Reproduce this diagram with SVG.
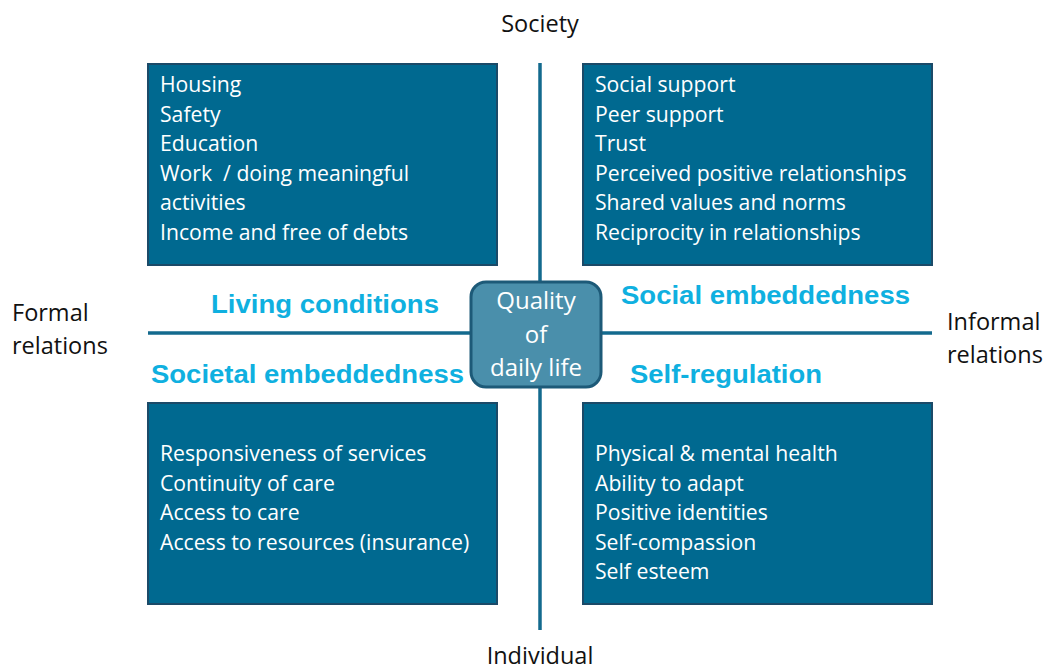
<svg xmlns="http://www.w3.org/2000/svg" width="1046" height="670" viewBox="0 0 1046 670">
<style>
.box{fill:#006990;stroke:#1b4a68;stroke-width:2}
.line{stroke:#136a8e;stroke-width:3.5;fill:none}
.t{font-family:"Open Sans","Noto Sans",sans-serif;font-size:21.2px;fill:#ffffff}
.h{font-family:"Liberation Sans",Arial,sans-serif;font-weight:bold;font-size:26px;fill:#0fb0e0}
.l{font-family:"Open Sans","Noto Sans",sans-serif;font-size:23.5px;fill:#111111}
.c{font-family:"Open Sans","Noto Sans",sans-serif;font-size:24px;fill:#ffffff;text-anchor:middle}
</style>
<rect width="1046" height="670" fill="#ffffff"/>
<g id="connectors">
<line class="line" x1="540" y1="63" x2="540" y2="630"/>
<line class="line" x1="148" y1="333" x2="932" y2="333"/>
</g>
<g id="living-box">
<rect class="box" x="148" y="64" width="349" height="201"/>
<text class="t" x="160" y="92">Housing</text>
<text class="t" x="160" y="122">Safety</text>
<text class="t" x="160" y="151">Education</text>
<text class="t" x="160" y="181" xml:space="preserve">Work  / doing meaningful</text>
<text class="t" x="160" y="210">activities</text>
<text class="t" x="160" y="240">Income and free of debts</text>
</g>
<g id="social-box">
<rect class="box" x="583" y="64" width="349" height="201"/>
<text class="t" x="595" y="92">Social support</text>
<text class="t" x="595" y="122">Peer support</text>
<text class="t" x="595" y="151">Trust</text>
<text class="t" x="595" y="181">Perceived positive relationships</text>
<text class="t" x="595" y="210">Shared values and norms</text>
<text class="t" x="595" y="240">Reciprocity in relationships</text>
</g>
<g id="societal-box">
<rect class="box" x="148" y="403" width="349" height="201"/>
<text class="t" x="160" y="461">Responsiveness of services</text>
<text class="t" x="160" y="491">Continuity of care</text>
<text class="t" x="160" y="520">Access to care</text>
<text class="t" x="160" y="550">Access to resources (insurance)</text>
</g>
<g id="self-box">
<rect class="box" x="583" y="403" width="349" height="201"/>
<text class="t" x="595" y="461">Physical &amp; mental health</text>
<text class="t" x="595" y="491">Ability to adapt</text>
<text class="t" x="595" y="520">Positive identities</text>
<text class="t" x="595" y="550">Self-compassion</text>
<text class="t" x="595" y="579">Self esteem</text>
</g>
<g id="headings">
<text class="h" x="211" y="313" textLength="228" lengthAdjust="spacingAndGlyphs">Living conditions</text>
<text class="h" x="621" y="304" textLength="289" lengthAdjust="spacingAndGlyphs">Social embeddedness</text>
<text class="h" x="151" y="383" textLength="313" lengthAdjust="spacingAndGlyphs">Societal embeddedness</text>
<text class="h" x="630" y="383" textLength="192" lengthAdjust="spacingAndGlyphs">Self-regulation</text>
</g>
<g id="center">
<rect x="471" y="282" width="130" height="105" rx="15" fill="#4a8fab" stroke="#1d5a78" stroke-width="3"/>
<text class="c" x="536" y="309">Quality</text>
<text class="c" x="536" y="343">of</text>
<text class="c" x="536" y="376">daily life</text>
</g>
<g id="axis-labels">
<text class="l" x="540" y="32" text-anchor="middle">Society</text>
<text class="l" x="540" y="664" text-anchor="middle">Individual</text>
<text class="l" x="12" y="321">Formal</text>
<text class="l" x="12" y="354">relations</text>
<text class="l" x="947" y="330">Informal</text>
<text class="l" x="947" y="363">relations</text>
</g>
</svg>
